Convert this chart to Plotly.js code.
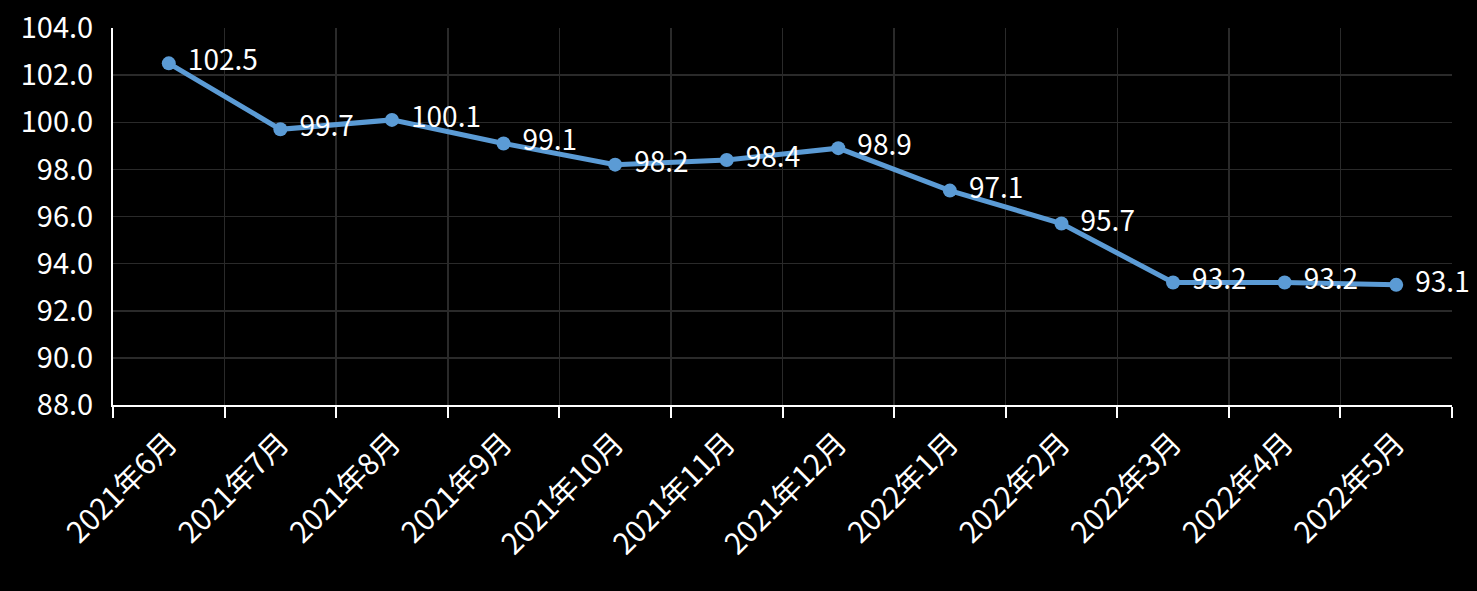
<!DOCTYPE html>
<html>
<head>
<meta charset="utf-8">
<script src="https://cdn.plot.ly/plotly-3.0.1.min.js"></script>
<style>html,body{margin:0;padding:0;background:#000;}#chart{width:1477px;height:591px;}</style>
</head>
<body>
<div id="chart"></div>
<script>
const categories = ["2021年6月","2021年7月","2021年8月","2021年9月","2021年10月","2021年11月","2021年12月","2022年1月","2022年2月","2022年3月","2022年4月","2022年5月"];
const values = [102.5, 99.7, 100.1, 99.1, 98.2, 98.4, 98.9, 97.1, 95.7, 93.2, 93.2, 93.1];
const yTickValues = [88, 90, 92, 94, 96, 98, 100, 102, 104];

const fontFamily = '"Noto Sans CJK SC", "Noto Sans", sans-serif';

const trace = {
  type: 'scatter',
  mode: 'lines+markers+text',
  x: categories,
  y: values,
  text: values.map(v => '\u2004' + v.toFixed(1)),
  textposition: 'middle right',
  textfont: {color: '#ffffff', size: 28, family: fontFamily},
  line: {color: '#5B9BD5', width: 5},
  marker: {color: '#5B9BD5', size: 14},
  cliponaxis: false,
  hoverinfo: 'x+y'
};

const layout = {
  width: 1477,
  height: 591,
  paper_bgcolor: '#000000',
  plot_bgcolor: '#000000',
  margin: {l: 113, r: 25, t: 28, b: 186},
  showlegend: false,
  font: {family: fontFamily, color: '#ffffff', size: 28},
  xaxis: {
    type: 'category',
    range: [-0.5, 11.5],
    tickson: 'boundaries',
    ticks: 'outside',
    ticklen: 11,
    tickwidth: 2,
    tickcolor: '#ffffff',
    showline: true,
    linecolor: '#ffffff',
    linewidth: 2,
    showgrid: true,
    gridcolor: '#2a2a2a',
    gridwidth: 1.5,
    tickangle: -45,
    tickfont: {size: 29.5, color: '#ffffff', family: fontFamily},
    ticklabelstandoff: 7,
    fixedrange: true
  },
  yaxis: {
    range: [88, 104],
    tickvals: yTickValues,
    tickformat: '.1f',
    ticks: '',
    showline: true,
    linecolor: '#ffffff',
    linewidth: 2,
    showgrid: true,
    gridcolor: '#2a2a2a',
    gridwidth: 1.5,
    zeroline: false,
    tickfont: {size: 29, color: '#ffffff', family: fontFamily},
    ticklabelstandoff: 12,
    fixedrange: true
  }
};

Plotly.newPlot('chart', [trace], layout, {displayModeBar: false, staticPlot: true});
</script>
</body>
</html>
